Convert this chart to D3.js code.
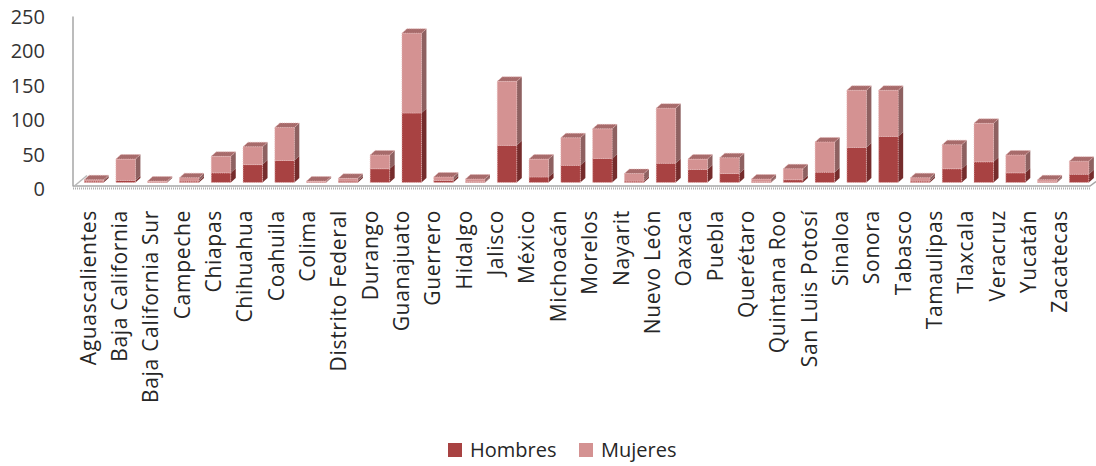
<!DOCTYPE html>
<html>
<head>
<meta charset="utf-8">
<script src="https://cdn.jsdelivr.net/npm/d3@7"></script>
<style>
  body { margin: 0; background: #fff; }
  svg { font-family: "Open Sans", sans-serif; }
</style>
</head>
<body>
<svg width="1096" height="466"></svg>
<script>
// states (categories) and values per sex
let estados = ['Aguascalientes', 'Baja California', 'Baja California Sur', 'Campeche', 'Chiapas',
    'Chihuahua', 'Coahuila', 'Colima', 'Distrito Federal', 'Durango', 'Guanajuato', 'Guerrero',
    'Hidalgo', 'Jalisco', 'México', 'Michoacán', 'Morelos', 'Nayarit', 'Nuevo León', 'Oaxaca',
    'Puebla', 'Querétaro', 'Quintana Roo', 'San Luis Potosí', 'Sinaloa', 'Sonora', 'Tabasco',
    'Tamaulipas', 'Tlaxcala', 'Veracruz', 'Yucatán', 'Zacatecas'];
let hombres = [2, 3, 1, 2, 14, 26, 32, 1, 2, 20, 101, 3, 1, 54, 8, 25, 35, 2, 28, 19,
    13, 1, 4, 15, 51, 67, 2, 20, 30, 14, 1, 12];
let mujeres = [2, 31, 1, 5, 24, 26, 48, 1, 4, 20, 116, 5, 4, 93, 26, 40, 43, 11, 80, 15,
    23, 4, 16, 44, 83, 67, 5, 35, 56, 26, 3, 19];
let yTicks = [0, 50, 100, 150, 200, 250];
let seriesNames = ['Hombres', 'Mujeres'];

let colors = {
    Hombres: {front: '#a84242', side: '#752c2c', top: '#8f3a3a'},
    Mujeres: {front: '#d49292', side: '#8e6161', top: '#a76b6b'}
};

let svg = d3.select('svg');

// scales
let xScale = d3.scaleBand().domain(estados).range([78, 1095]);
let labelScale = d3.scaleBand().domain(estados).range([73, 1076]);
let yScale = d3.scaleLinear().domain([0, 250]).range([182.5, 10.5]);

let barWidth = 19.5;
let dx = 5, dy = -4.5;

// back wall axis line and floor
svg.append('line')
    .attr('x1', 73).attr('x2', 73)
    .attr('y1', yScale(250) + 6).attr('y2', yScale(0) + 4)
    .attr('stroke', '#a6a6a6').attr('stroke-width', 1.5);

svg.append('path')
    .attr('d', 'M73,' + (yScale(0) + 3.5) + 'L1090,' + (yScale(0) + 3.5) + 'L1096,' + (yScale(0) - 1))
    .attr('fill', 'none').attr('stroke', '#a6a6a6').attr('stroke-width', 1.5);
svg.append('line')
    .attr('x1', 73).attr('x2', 1090)
    .attr('y1', yScale(0) + 6).attr('y2', yScale(0) + 6)
    .attr('stroke', '#b0b0b0').attr('stroke-width', 2)
    .attr('stroke-dasharray', '1,1');
svg.append('line')
    .attr('x1', 75).attr('y1', yScale(0) + 3)
    .attr('x2', 87).attr('y2', yScale(0) - 7)
    .attr('stroke', '#b8b8b8').attr('stroke-width', 1.5);

// y tick labels
svg.append('g').selectAll('text')
    .data(yTicks)
    .enter().append('text')
    .attr('x', 45)
    .attr('y', d => yScale(d) + 6.5)
    .attr('dy', '0.35em')
    .attr('text-anchor', 'end')
    .attr('font-size', '20px')
    .attr('fill', '#333')
    .text(d => d);

// stacked 3d bars
let barsG = svg.append('g');
estados.forEach(function(estado, i) {
    let x0 = xScale(estado) + (xScale.bandwidth() - barWidth) / 2;
    let segs = [
        {name: 'Hombres', y0: 0, y1: hombres[i]},
        {name: 'Mujeres', y0: hombres[i], y1: hombres[i] + mujeres[i]}
    ];
    segs.forEach(function(s, j) {
        let yt = yScale(s.y1), yb = yScale(s.y0);
        let c = colors[s.name];
        // side face
        barsG.append('path')
            .attr('d', 'M' + (x0 + barWidth) + ',' + yb + 'L' + (x0 + barWidth + dx) + ',' + (yb + dy) +
                'L' + (x0 + barWidth + dx) + ',' + (yt + dy) + 'L' + (x0 + barWidth) + ',' + yt + 'Z')
            .attr('fill', c.side);
        // front face
        barsG.append('rect')
            .attr('x', x0).attr('y', yt)
            .attr('width', barWidth).attr('height', Math.max(yb - yt, 0.5))
            .attr('fill', c.front)
            .attr('stroke', '#e9b9b9').attr('stroke-width', 0.8)
            .attr('stroke-dasharray', '1,1.2');
        // top face only on the uppermost segment
        if (j === segs.length - 1) {
            barsG.append('path')
                .attr('d', 'M' + x0 + ',' + yt + 'L' + (x0 + dx) + ',' + (yt + dy) +
                    'L' + (x0 + barWidth + dx) + ',' + (yt + dy) + 'L' + (x0 + barWidth) + ',' + yt + 'Z')
                .attr('fill', c.top)
                .attr('stroke', '#e9b9b9').attr('stroke-width', 0.8)
                .attr('stroke-dasharray', '1,1.2');
        }
    });
});

// category labels rotated
svg.append('g').selectAll('text')
    .data(estados)
    .enter().append('text')
    .attr('transform', d => 'translate(' + (labelScale(d) + labelScale.bandwidth() / 2 + 7) + ',210) rotate(-90)')
    .attr('text-anchor', 'end')
    .attr('font-size', '21px')
    .attr('letter-spacing', '0.7px')
    .attr('fill', '#262626')
    .text(d => d);

// legend
let legendX = [448, 579];
let legend = svg.append('g');
seriesNames.forEach(function(name, i) {
    legend.append('rect')
        .attr('x', legendX[i]).attr('y', 443)
        .attr('width', 14).attr('height', 14)
        .attr('fill', colors[name].front);
    legend.append('text')
        .attr('x', legendX[i] + 22).attr('y', 450)
        .attr('dy', '0.35em')
        .attr('font-size', '20px')
        .attr('fill', '#262626')
        .text(name);
});
</script>
</body>
</html>
